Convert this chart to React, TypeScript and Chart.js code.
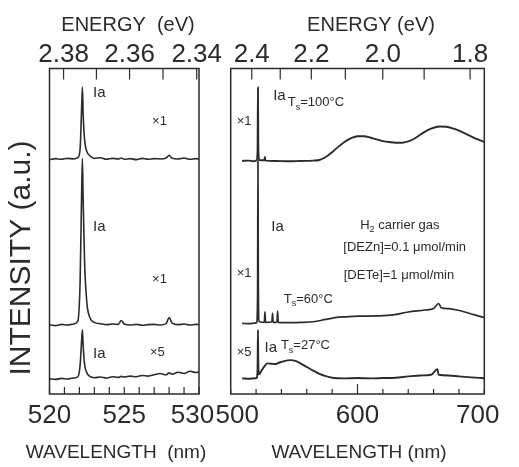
import React, { useEffect, useRef } from 'react';
import { Chart, registerables } from 'chart.js';

Chart.register(...registerables);

const HC = 1239.84; // eV·nm
const FONT = "'Liberation Sans', Arial, Helvetica, sans-serif";
const INK = '#2b2b2b';

// ---------- Left panel: 520–530 nm ----------
const leftWavelength = [520.0, 520.4, 520.8, 521.2, 521.6, 521.9, 522.05, 522.15, 522.2, 522.25, 522.35, 522.5, 522.7, 523.0, 523.4, 523.8, 524.2, 524.6, 524.8, 525.0, 525.4, 525.8, 526.2, 526.6, 527.0, 527.4, 527.8, 528.0, 528.2, 528.6, 529.0, 529.4, 529.8, 530.0];
const leftTs100 = [72.0, 72.3, 72.1, 72.4, 72.2, 72.6, 75.5, 88.0, 94.3, 86.0, 78.0, 74.5, 73.2, 72.4, 72.6, 72.1, 72.4, 72.2, 72.5, 72.1, 72.3, 72.0, 72.4, 72.1, 72.3, 72.2, 72.5, 73.3, 72.4, 72.2, 72.5, 72.1, 72.3, 72.2];
const leftTs60 = [21.3, 21.0, 21.4, 21.2, 21.5, 22.5, 35.0, 62.0, 72.3, 60.0, 40.0, 28.0, 23.5, 22.0, 21.6, 21.3, 21.5, 21.4, 22.6, 21.5, 21.2, 21.4, 21.1, 21.3, 21.4, 21.2, 21.6, 23.5, 21.8, 21.3, 21.5, 21.2, 21.4, 21.3];
const leftTs27 = [4.7, 4.5, 4.8, 4.6, 4.9, 5.3, 9.0, 16.5, 19.7, 15.0, 9.0, 6.5, 5.4, 5.0, 5.2, 4.9, 5.3, 5.1, 5.4, 5.2, 5.5, 5.3, 5.7, 5.5, 5.9, 6.3, 5.9, 6.5, 6.1, 6.7, 6.3, 7.0, 6.6, 6.9];
const leftWavelengthLabels = [520, 525, 530];
const leftEnergyTicks = [2.38, 2.37, 2.36, 2.35, 2.34];
const leftEnergyLabels = ['2.38', '', '2.36', '', '2.34'];

// ---------- Right panel: 500–700 nm ----------
const rightTs100Wl = [509, 514, 518, 520.5, 521.2, 521.5, 521.8, 522.5, 526.5, 527, 527.5, 535, 545, 555, 565, 570, 575, 580, 585, 590, 595, 600, 605, 610, 615, 620, 625, 630, 635, 640, 645, 650, 655, 660, 665, 670, 675, 680, 685, 690, 695, 700];
const rightTs100 = [71.6, 71.7, 71.5, 71.8, 75.0, 94.2, 75.0, 71.9, 71.8, 72.8, 71.7, 71.6, 71.5, 71.6, 71.7, 71.9, 72.8, 74.3, 76.0, 77.5, 78.6, 79.2, 79.2, 78.8, 78.2, 77.7, 77.4, 77.2, 77.2, 77.6, 78.5, 79.8, 81.0, 81.8, 82.2, 82.1, 81.6, 80.9, 80.0, 79.1, 78.2, 77.4];
const rightTs60Wl = [509, 515, 520.5, 521.2, 521.5, 521.8, 522.5, 526.5, 527, 527.5, 532.5, 533, 533.5, 536.5, 537, 537.5, 545, 555, 565, 575, 585, 590, 600, 615, 628, 640, 653, 660, 664, 666, 672, 678.5, 688, 698, 700];
const rightTs60 = [21.7, 21.6, 21.9, 30.0, 71.6, 32.0, 22.3, 22.0, 25.2, 22.0, 22.2, 24.8, 22.0, 22.1, 25.5, 22.0, 21.9, 22.0, 22.2, 22.9, 23.6, 23.7, 23.9, 24.0, 24.3, 25.2, 25.8, 26.3, 27.8, 26.5, 26.2, 25.8, 24.8, 23.7, 23.5];
const rightTs27Wl = [509, 515, 520.5, 521.2, 521.5, 521.8, 522.3, 524, 526, 529, 532, 535, 538, 542, 547, 552, 556, 560, 565, 570, 575, 580, 590, 600, 610, 620, 630, 640, 650, 658, 663, 664, 672, 680, 690, 698, 700];
const rightTs27 = [4.8, 4.7, 4.9, 8.0, 19.7, 9.0, 6.0, 7.0, 8.2, 9.4, 9.3, 9.2, 9.6, 10.1, 10.4, 10.0, 9.2, 8.3, 7.2, 6.2, 5.5, 5.0, 4.8, 4.9, 4.8, 4.9, 5.0, 5.4, 5.7, 5.9, 7.6, 5.9, 5.7, 5.4, 5.1, 4.9, 4.8];
const rightWavelengthLabels = [500, 600, 700];
const rightEnergyTicks = [2.4, 2.3, 2.2, 2.1, 2.0, 1.9, 1.8];
const rightEnergyLabels = ['2.4', '', '2.2', '', '2.0', '', '1.8'];

type Part = { t: string; sub?: boolean };
type Note = { x: number; y: number; parts: Part[]; size: number; align?: 'left' | 'center' };
type Title = { text: string; x: number; y: number; size: number; rotate?: boolean };

const leftNotes: Note[] = [
  { x: 522.91, y: 92.5, parts: [{ t: 'Ia' }], size: 15 },
  { x: 526.86, y: 83.6, parts: [{ t: '×1' }], size: 13 },
  { x: 522.91, y: 51.2, parts: [{ t: 'Ia' }], size: 15 },
  { x: 526.86, y: 35.3, parts: [{ t: '×1' }], size: 13 },
  { x: 522.91, y: 12.3, parts: [{ t: 'Ia' }], size: 15 },
  { x: 526.72, y: 12.9, parts: [{ t: '×5' }], size: 13 },
];

const rightNotes: Note[] = [
  { x: 504.77, y: 83.6, parts: [{ t: '×1' }], size: 13 },
  { x: 504.77, y: 36.9, parts: [{ t: '×1' }], size: 13 },
  { x: 504.77, y: 12.9, parts: [{ t: '×5' }], size: 13 },
  { x: 533.5, y: 91.6, parts: [{ t: 'Ia' }], size: 15 },
  { x: 545.0, y: 89.6, parts: [{ t: 'T' }, { t: 's', sub: true }, { t: '=100°C' }], size: 13 },
  { x: 532.0, y: 51.3, parts: [{ t: 'Ia' }], size: 15 },
  { x: 633.4, y: 51.9, parts: [{ t: 'H' }, { t: '2', sub: true }, { t: ' carrier gas' }], size: 13, align: 'center' },
  { x: 637.2, y: 44.9, parts: [{ t: '[DEZn]=0.1 μmol/min' }], size: 13, align: 'center' },
  { x: 632.7, y: 36.3, parts: [{ t: '[DETe]=1 μmol/min' }], size: 13, align: 'center' },
  { x: 541.9, y: 29.2, parts: [{ t: 'T' }, { t: 's', sub: true }, { t: '=60°C' }], size: 13 },
  { x: 526.7, y: 14.1, parts: [{ t: 'Ia' }], size: 15 },
  { x: 539.6, y: 14.9, parts: [{ t: 'T' }, { t: 's', sub: true }, { t: '=27°C' }], size: 13 },
];

const decorPlugin = {
  id: 'decor',
  afterDraw(chart: any, _args: any, opts: any) {
    const ctx: CanvasRenderingContext2D = chart.ctx;
    const a = chart.chartArea;
    const xs = chart.scales.x;
    const xt = chart.scales.x2;
    const ys = chart.scales.y;
    ctx.save();
    // frame
    ctx.strokeStyle = INK;
    ctx.lineWidth = 1.5;
    ctx.strokeRect(a.left, a.top, a.right - a.left, a.bottom - a.top);
    // inward ticks
    ctx.lineWidth = 1.2;
    ctx.beginPath();
    xs.ticks.forEach((t: any) => {
      const px = xs.getPixelForValue(t.value);
      const major = (opts.majorBottom as number[]).some((m) => Math.abs(m - t.value) < 1e-6);
      const len = major ? opts.bottomMajorLen : opts.bottomLen;
      ctx.moveTo(px, a.bottom);
      ctx.lineTo(px, a.bottom - len);
    });
    xt.ticks.forEach((t: any) => {
      const px = xt.getPixelForValue(t.value);
      ctx.moveTo(px, a.top);
      ctx.lineTo(px, a.top + opts.topLen);
    });
    ctx.stroke();
    // annotations
    ctx.fillStyle = INK;
    (opts.notes as Note[]).forEach((n) => {
      const px = xs.getPixelForValue(n.x);
      const py = ys.getPixelForValue(n.y);
      const subSize = Math.round(n.size * 0.72);
      const widths = n.parts.map((p) => {
        ctx.font = `${p.sub ? subSize : n.size}px ${FONT}`;
        return ctx.measureText(p.t).width;
      });
      const total = widths.reduce((s, w) => s + w, 0);
      let cx = n.align === 'center' ? px - total / 2 : px;
      ctx.textAlign = 'left';
      ctx.textBaseline = 'middle';
      n.parts.forEach((p, i) => {
        ctx.font = `${p.sub ? subSize : n.size}px ${FONT}`;
        ctx.fillText(p.t, cx, p.sub ? py + n.size * 0.38 : py);
        cx += widths[i];
      });
    });
    // axis titles
    (opts.titles as Title[]).forEach((t) => {
      ctx.save();
      ctx.translate(t.x, t.y);
      if (t.rotate) ctx.rotate(-Math.PI / 2);
      ctx.font = `${t.size}px ${FONT}`;
      ctx.textAlign = 'center';
      ctx.textBaseline = 'middle';
      ctx.fillText(t.text, 0, 0);
      ctx.restore();
    });
    ctx.restore();
  },
};

type Series = { wl: number[]; v: number[]; width: number };
type Panel = {
  left: number;
  right: number;
  min: number;
  max: number;
  step: number;
  series: Series[];
  wlLabels: number[];
  wlLabelText: (v: number) => string;
  energy: number[];
  energyLabels: string[];
  titles: Title[];
  notes: Note[];
  bottomLen: number;
  bottomMajorLen: number;
  majorBottom: number[];
};

function buildConfig(p: Panel): any {
  const tickFont = { family: FONT, size: 26 };
  return {
    type: 'line',
    data: {
      datasets: p.series.map((s) => ({
        data: s.wl.map((x, i) => ({ x, y: s.v[i] })),
        borderColor: INK,
        borderWidth: s.width,
        pointRadius: 0,
        fill: false,
        cubicInterpolationMode: 'monotone',
      })),
    },
    options: {
      responsive: false,
      animation: false,
      devicePixelRatio: 1,
      events: [],
      layout: { padding: { left: p.left, right: 519 - p.right, top: 0, bottom: 0 } },
      plugins: {
        legend: { display: false },
        tooltip: { enabled: false },
        decor: {
          notes: p.notes,
          titles: p.titles,
          topLen: 11,
          bottomLen: p.bottomLen,
          bottomMajorLen: p.bottomMajorLen,
          majorBottom: p.majorBottom,
        },
      },
      scales: {
        x: {
          type: 'linear',
          position: 'bottom',
          min: p.min,
          max: p.max,
          afterFit: (s: any) => {
            s.height = 73;
          },
          ticks: {
            stepSize: p.step,
            autoSkip: false,
            maxRotation: 0,
            minRotation: 0,
            padding: 6.5,
            color: INK,
            font: tickFont,
            callback: (v: number) => (p.wlLabels.some((m) => Math.abs(m - v) < 1e-6) ? p.wlLabelText(v) : ''),
          },
          grid: { display: false, drawTicks: false },
          border: { display: false },
        },
        x2: {
          type: 'linear',
          position: 'top',
          min: p.min,
          max: p.max,
          afterBuildTicks: (ax: any) => {
            ax.ticks = p.energy.map((e) => ({ value: HC / e }));
          },
          afterFit: (s: any) => {
            s.height = 68.5;
          },
          ticks: {
            autoSkip: false,
            maxRotation: 0,
            minRotation: 0,
            padding: -1.5,
            color: INK,
            font: tickFont,
            callback: (_v: number, i: number) => p.energyLabels[i] ?? '',
          },
          grid: { display: false, drawTicks: false },
          border: { display: false },
        },
        y: { type: 'linear', display: false, min: 0, max: 100 },
      },
    },
    plugins: [decorPlugin],
  };
}

const leftPanel: Panel = {
  left: 49.5,
  right: 199,
  min: 520,
  max: 530,
  step: 1,
  series: [
    { wl: leftWavelength, v: leftTs100, width: 1.6 },
    { wl: leftWavelength, v: leftTs60, width: 1.6 },
    { wl: leftWavelength, v: leftTs27, width: 1.6 },
  ],
  wlLabels: leftWavelengthLabels,
  wlLabelText: (v) => (v === 530 ? '530\u2002' : String(v)),
  energy: leftEnergyTicks,
  energyLabels: leftEnergyLabels,
  titles: [
    { text: 'ENERGY  (eV)', x: 128, y: 25, size: 20 },
    { text: 'WAVELENGTH  (nm)', x: 116, y: 453, size: 19 },
    { text: 'INTENSITY (a.u.)', x: 22, y: 258, size: 30, rotate: true },
  ],
  notes: leftNotes,
  bottomLen: 7,
  bottomMajorLen: 7,
  majorBottom: [],
};

const rightPanel: Panel = {
  left: 230.7,
  right: 495,
  min: 500,
  max: 700,
  step: 20,
  series: [
    { wl: rightTs100Wl, v: rightTs100, width: 1.9 },
    { wl: rightTs60Wl, v: rightTs60, width: 1.7 },
    { wl: rightTs27Wl, v: rightTs27, width: 1.9 },
  ],
  wlLabels: rightWavelengthLabels,
  wlLabelText: (v) => (v === 500 ? '\u2002500' : v === 700 ? '700\u2002' : String(v)),
  energy: rightEnergyTicks,
  energyLabels: rightEnergyLabels,
  titles: [
    { text: 'ENERGY (eV)', x: 371, y: 25, size: 20 },
    { text: 'WAVELENGTH (nm)', x: 359, y: 453, size: 19 },
  ],
  notes: rightNotes,
  bottomLen: 5,
  bottomMajorLen: 10,
  majorBottom: [600],
};

function PanelCanvas({ panel }: { panel: Panel }) {
  const ref = useRef<HTMLCanvasElement | null>(null);
  useEffect(() => {
    if (!ref.current) return;
    const chart = new Chart(ref.current, buildConfig(panel));
    return () => chart.destroy();
  }, [panel]);
  return <canvas ref={ref} width={519} height={467} style={{ position: 'absolute', left: 0, top: 0 }} />;
}

export default function App() {
  return (
    <div style={{ position: 'absolute', left: 0, top: 0, width: 519, height: 467, background: '#ffffff', overflow: 'hidden' }}>
      <PanelCanvas panel={leftPanel} />
      <PanelCanvas panel={rightPanel} />
    </div>
  );
}
